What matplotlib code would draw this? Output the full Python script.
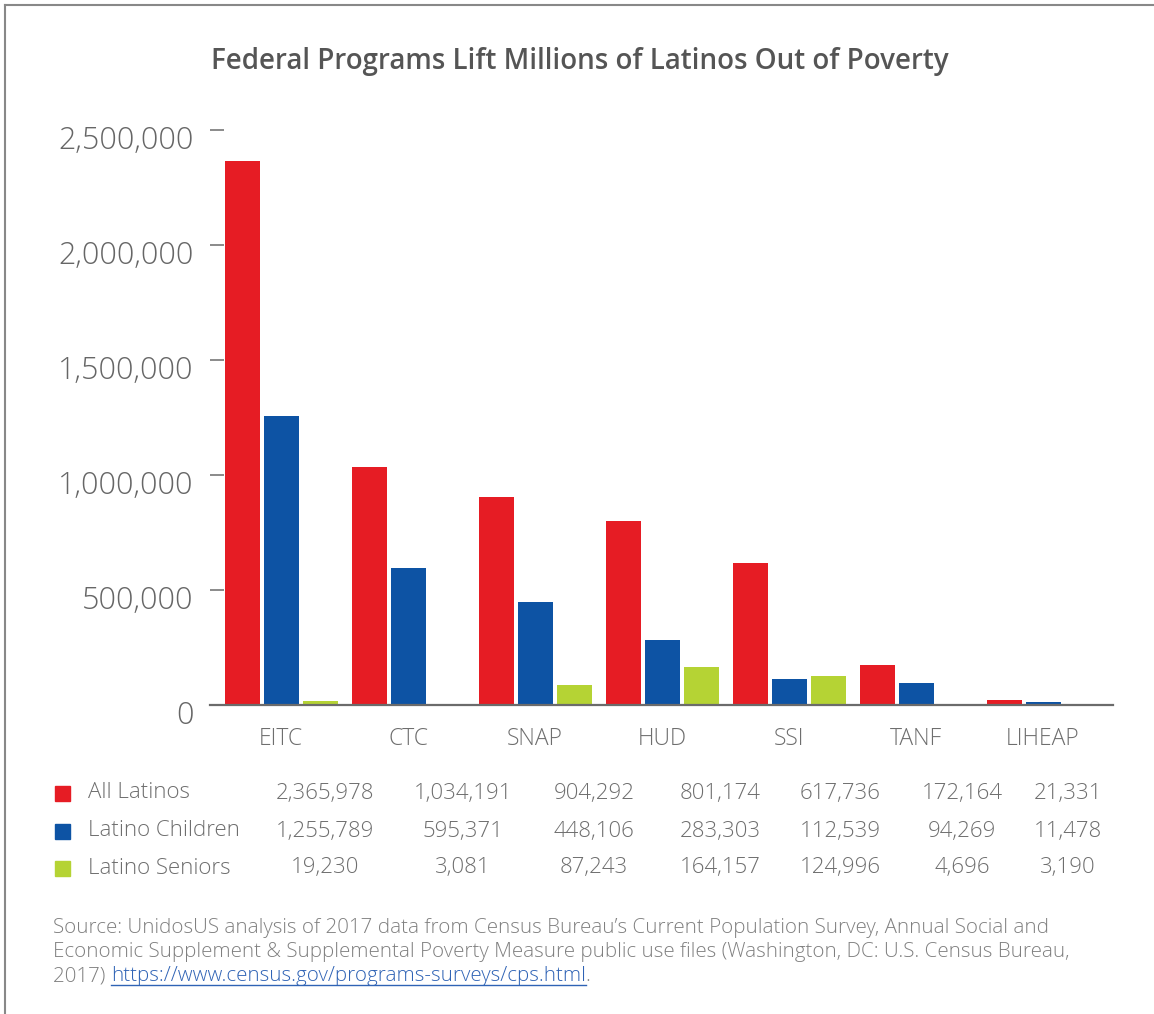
import matplotlib
matplotlib.use("Agg")
import matplotlib.pyplot as plt
import matplotlib.transforms as mtransforms
import numpy as np

plt.rcParams['font.family'] = ['Open Sans', 'DejaVu Sans']

# data
programs = ["EITC", "CTC", "SNAP", "HUD", "SSI", "TANF", "LIHEAP"]
series_names = ["All Latinos", "Latino Children", "Latino Seniors"]
all_latinos = [2365978, 1034191, 904292, 801174, 617736, 172164, 21331]
latino_children = [1255789, 595371, 448106, 283303, 112539, 94269, 11478]
latino_seniors = [19230, 3081, 87243, 164157, 124996, 4696, 3190]
yticks = [0, 500000, 1000000, 1500000, 2000000, 2500000]

colors = ["#E61C24", "#0D53A4", "#B5D334"]
gray = "#6b6b6b"
txt = "#6e6e6e"
lw_font = "light"

W, H = 1154, 1014
fig = plt.figure(figsize=(W / 100, H / 100), dpi=100)

# frame lines at top and left
fig.add_artist(plt.Line2D([5 / W, 5 / W], [0, 1 - 5 / H], color="#888888", lw=1.5))
fig.add_artist(plt.Line2D([5 / W, 1], [1 - 5 / H, 1 - 5 / H], color="#888888", lw=1.5))

ax = fig.add_axes([210 / W, 1 - 705 / H, (1113 - 210) / W, (705 - 130) / H])
x = np.arange(len(programs))
width = 35 / 127
step = 39 / 127
for i, vals in enumerate([all_latinos, latino_children, latino_seniors]):
    ax.bar(x + (i - 1) * step, vals, width=width, color=colors[i], zorder=2)

ax.set_xlim(-71 / 127, 6 + 70 / 127)
ax.set_ylim(0, 2500000)
ax.set_yticks(yticks)
ax.set_yticklabels([f"{v:,}" for v in yticks])
ax.set_xticks(x)
ax.set_xticklabels(programs)
for s in ["top", "right", "left"]:
    ax.spines[s].set_visible(False)
ax.spines["bottom"].set_color(gray)
ax.spines["bottom"].set_linewidth(1.6)
ax.spines["bottom"].set_zorder(3)
ax.tick_params(axis="y", direction="in", length=10, width=1.2, color="#777777", pad=12,
               labelsize=22, labelcolor="#666666")
ax.tick_params(axis="x", length=0, pad=16, labelsize=16.5, labelcolor=txt)
for lab in ax.get_yticklabels():
    lab.set_fontweight(lw_font)
    lab.set_transform(lab.get_transform() + mtransforms.ScaledTranslation(0, -7 / 100, fig.dpi_scale_trans))
for lab in ax.get_xticklabels():
    lab.set_fontweight(lw_font)

fig.text(580 / W, 1 - 61 / H, "Federal Programs Lift Millions of Latinos Out of Poverty",
         ha="center", va="center", fontsize=20, color="#555555", fontweight="semibold")

# data table below
col_x = [325, 463, 594, 720, 840, 962, 1068]
row_y = [793, 831, 868]
fs_tab = 16
for r, vals in enumerate([all_latinos, latino_children, latino_seniors]):
    yy = 1 - row_y[r] / H
    fig.patches.append(plt.Rectangle((55 / W, yy - 7.5 / H), 15 / W, 15 / H,
                                     transform=fig.transFigure, color=colors[r], figure=fig))
    fig.text(88 / W, yy, series_names[r], ha="left", va="center", fontsize=fs_tab,
             color=txt, fontweight=lw_font)
    for c, v in enumerate(vals):
        fig.text(col_x[c] / W, yy, f"{v:,}", ha="center", va="center", fontsize=fs_tab,
                 color=txt, fontweight=lw_font)

src_lines = [
    "Source: UnidosUS analysis of 2017 data from Census Bureau\u2019s Current Population Survey, Annual Social and",
    "Economic Supplement & Supplemental Poverty Measure public use files (Washington, DC: U.S. Census Bureau,",
]
fs_src = 14.8
for k, line in enumerate(src_lines):
    fig.text(53 / W, 1 - (928 + 24 * k) / H, line, ha="left", va="center", fontsize=fs_src,
             color="#808080", fontweight=lw_font)

t0 = fig.text(53 / W, 1 - 976 / H, "2017) ", ha="left", va="center", fontsize=fs_src,
              color="#808080", fontweight=lw_font)
fig.canvas.draw()
r = fig.canvas.get_renderer()
bb0 = t0.get_window_extent(r)
url = fig.text(bb0.x1 / W, 1 - 976 / H, "https://www.census.gov/programs-surveys/cps.html",
               ha="left", va="center", fontsize=fs_src, color="#2F63B5", fontweight=lw_font)
bb1 = url.get_window_extent(r)
fig.text(bb1.x1 / W, 1 - 976 / H, ".", ha="left", va="center", fontsize=fs_src,
         color="#808080", fontweight=lw_font)
fig.add_artist(plt.Line2D([bb1.x0 / W, bb1.x1 / W], [(bb1.y0 + 1) / H, (bb1.y0 + 1) / H],
                          color="#2F63B5", lw=1))

fig.savefig("out.png", dpi=100)
